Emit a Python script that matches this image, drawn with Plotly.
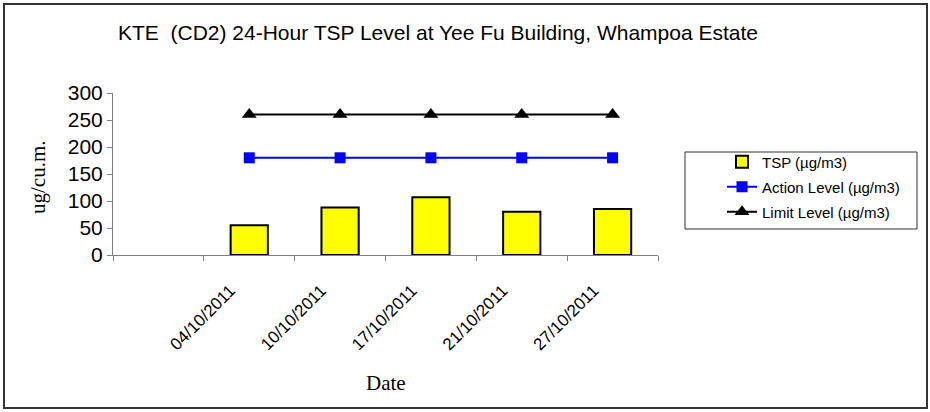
import plotly.graph_objects as go

categories = ["", "04/10/2011", "10/10/2011", "17/10/2011", "21/10/2011", "27/10/2011"]
tsp = [None, 55, 88, 107, 80, 85]
action_level = [None, 180, 180, 180, 180, 180]
limit_level = [None, 260, 260, 260, 260, 260]

L, R, T, B = 113, 658, 93, 255
W, H = 930, 412
pw, ph = R - L, B - T


def px(x):
    return (x - L) / pw


def py(y):
    return (B - y) / ph


fig = go.Figure()
fig.add_trace(go.Bar(
    x=categories, y=tsp, name="TSP (µg/m3)",
    marker=dict(color="#FFFF00", line=dict(color="black", width=2)),
    width=0.41, legend="legend",
))
fig.add_trace(go.Scatter(
    x=categories, y=action_level, name="Action Level (µg/m3)", mode="lines+markers",
    line=dict(color="#0000FF", width=2),
    marker=dict(symbol="square", size=11, color="#0000FF"),
    legend="legend2",
))
fig.add_trace(go.Scatter(
    x=categories, y=limit_level, name="Limit Level (µg/m3)", mode="lines+markers",
    line=dict(color="black", width=2),
    marker=dict(symbol="triangle-up", size=13, color="black"),
    legend="legend3",
))

leg_common = dict(xanchor="left", yanchor="middle", borderwidth=0,
                  bgcolor="rgba(0,0,0,0)",
                  font=dict(size=15, family="Liberation Sans, Arial"))
leg_x = px(722)

fig.update_layout(
    width=W, height=H,
    margin=dict(l=L, r=W - R, t=T, b=H - B),
    paper_bgcolor="white", plot_bgcolor="white",
    font=dict(family="Liberation Sans, Arial", color="black"),
    title=dict(text="KTE  (CD2) 24-Hour TSP Level at Yee Fu Building, Whampoa Estate",
               x=438 / W, xanchor="center", y=1 - 33 / H, yanchor="middle",
               font=dict(size=21, family="Liberation Sans, Arial")),
    showlegend=True,
    legend=dict(x=leg_x, y=py(162), **leg_common),
    legend2=dict(x=leg_x, y=py(187), **leg_common),
    legend3=dict(x=leg_x, y=py(212), **leg_common),
    xaxis=dict(type="category", categoryorder="array", categoryarray=categories,
               range=[-0.5, 5.5], showgrid=False, showline=True, linecolor="#808080",
               linewidth=1, ticks="outside", ticklen=5, tickcolor="#808080",
               tickson="boundaries", tickangle=-45,
               ticklabelshift=-19, ticklabelstandoff=18,
               tickfont=dict(size=17, family="Liberation Sans, Arial")),
    yaxis=dict(range=[0, 300], dtick=50, showgrid=False, showline=True, linecolor="#808080",
               linewidth=1, ticks="outside", ticklen=5, tickcolor="#808080",
               tickfont=dict(size=21, family="Liberation Sans, Arial")),
    annotations=[
        dict(text="Date", x=px(386), y=py(383), xref="paper", yref="paper",
             xanchor="center", yanchor="middle", showarrow=False,
             font=dict(size=21, family="Liberation Serif, Times New Roman")),
        dict(text="ug/cu.m.", x=px(38), y=py(177), xref="paper", yref="paper",
             xanchor="center", yanchor="middle", showarrow=False, textangle=-90,
             font=dict(size=21, family="Liberation Serif, Times New Roman")),
    ],
    shapes=[
        dict(type="rect", xref="paper", yref="paper",
             x0=px(4), x1=px(927), y0=py(408), y1=py(4),
             line=dict(color="#333333", width=2), fillcolor="rgba(0,0,0,0)", layer="below"),
        dict(type="rect", xref="paper", yref="paper",
             x0=px(685), x1=px(917), y0=py(229), y1=py(152),
             line=dict(color="#333333", width=1), fillcolor="white", layer="below"),
    ],
)

fig.write_html("out.html", config={"displayModeBar": False},
               post_script="document.body.style.margin='0px';")
